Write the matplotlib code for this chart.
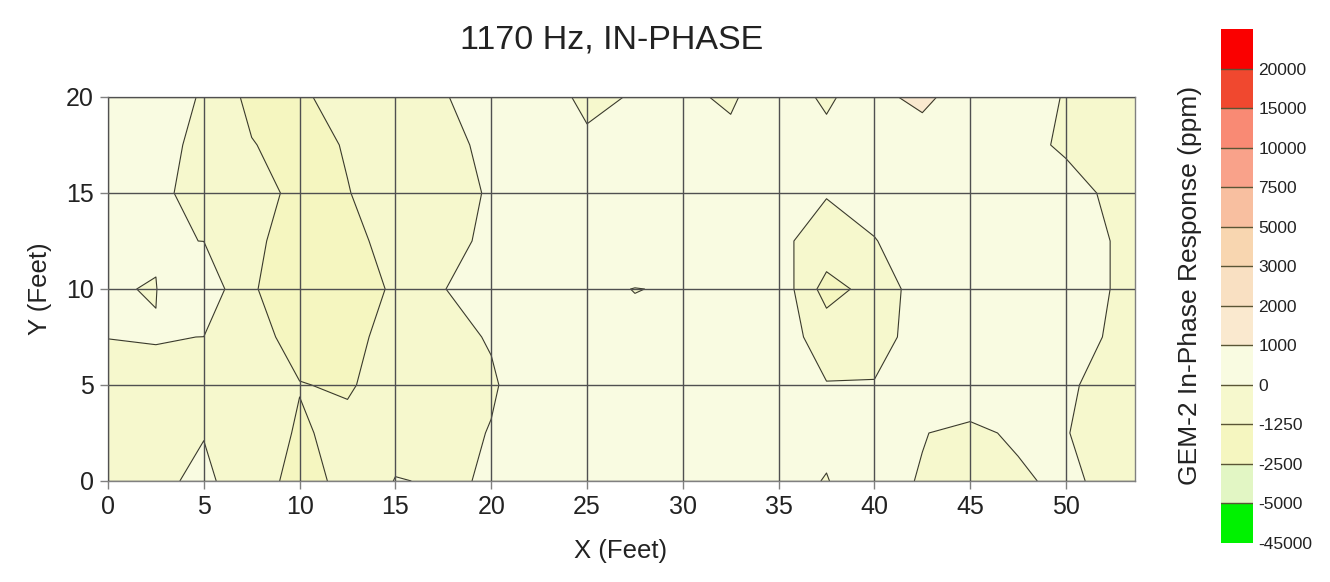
import numpy as np
import matplotlib
matplotlib.use("Agg")
import matplotlib.pyplot as plt
from matplotlib.colors import ListedColormap, BoundaryNorm

plt.rcParams['font.family'] = ['Liberation Sans', 'DejaVu Sans']

# ---- data (GEM-2 in-phase response, ppm) ----
x_ft = [0, 2.5, 5, 7.5, 10, 12.5, 15, 17.5, 20, 22.5, 25, 27.5, 30, 32.5, 35,
        37.5, 40, 42.5, 45, 47.5, 50, 52.5, 53.6]
y_ft = [0, 2.5, 5, 7.5, 10, 12.5, 15, 17.5, 20]

row_y00 = [-400, -315, 315, -900, -1500, -1069, 50, -100, 67, 300, 300, 300, 300, 200, 150, -20, 300, -60, -600, -200, 300, -450, -500]
row_y025 = [-500, -450, -60, -500, -1400, -900, -500, -300, 41, 400, 400, 400, 400, 400, 400, 100, 300, 40, -250, 188, 20, -230, -450]
row_y05 = [-500, -157, -300, -600, -1200, -1400, -600, -400, -100, 525, 400, 400, 400, 400, 400, 41, 40, 400, 800, 400, 100, -257, -450]
row_y075 = [20, 30, -6, -700, -1800, -1700, -700, -250, 62, 400, 400, 100, 400, 400, 508, -469, -300, 325, 400, 400, 300, -95, -400]
row_y10 = [30, -20, 900, -1150, -1900, -1800, -1100, -30, 500, 400, 100, -10, 40, 300, 833, -1771, -729, 573, 400, 400, 350, -30, -300]
row_y125 = [300, 60, -8, -1000, -1800, -1700, -700, -300, 200, 400, 400, 400, 400, 400, 152, -324, -30, 400, 400, 400, 350, -30, -300]
row_y15 = [450, 200, -326, -425, -1800, -1300, -600, -250, 62, 400, 400, 400, 400, 400, 400, 44, 300, 400, 400, 400, 300, -169, -450]
row_y175 = [450, 250, -196, -1180, -1800, -1136, -600, -300, 243, 400, 111, 350, 400, 213, 450, 336, 450, 382, 400, 250, -118, -450, -550]
row_y20 = [400, 300, -57, -1627, -1400, -864, -500, -50, 350, 300, -141, 45, 150, -120, 600, -189, 700, 1300, 300, 300, -41, -400, -500]

levels = [-45000, -5000, -2500, -1250, 0, 1000, 2000, 3000, 5000, 7500,
          10000, 15000, 20000, 25000]
band_colors = ['#00f200', '#e2f6c4', '#f5f6c0', '#f6f8cd', '#f9fbe1',
               '#fae9cf', '#f9e0c2', '#f8d6b0', '#f8bfa0', '#f9a28a',
               '#f98a74', '#f0482f', '#fa0000']
tick_labels = ['-45000', '-5000', '-2500', '-1250', '0', '1000', '2000',
               '3000', '5000', '7500', '10000', '15000', '20000']

title = '1170 Hz, IN-PHASE'
xlabel = 'X (Feet)'
ylabel = 'Y (Feet)'
cbar_label = 'GEM-2 In-Phase Response (ppm)'

# ---- figure ----
W, H = 1330, 582
fig = plt.figure(figsize=(W / 100, H / 100), dpi=100)
fig.patch.set_facecolor('white')

ax = fig.add_axes([108 / W, (H - 481) / H, (1135 - 108) / W, (481 - 97) / H])

Z = np.array([row_y00, row_y025, row_y05, row_y075, row_y10, row_y125,
              row_y15, row_y175, row_y20], dtype=float)
X, Y = np.meshgrid(np.array(x_ft), np.array(y_ft))

cmap = ListedColormap(band_colors)
norm = BoundaryNorm(levels, cmap.N)
cf = ax.contourf(X, Y, Z, levels=levels, cmap=cmap, norm=norm)
ax.contour(X, Y, Z, levels=levels, colors='#3a3a2a', linewidths=0.8,
           linestyles='solid')

ax.set_xlim(0, 53.6)
ax.set_ylim(0, 20)
ax.set_xticks(np.arange(0, 55, 5))
ax.set_yticks(np.arange(0, 25, 5))
ax.grid(True, color='#505050', linewidth=1.0)
ax.set_axisbelow(False)
for s in ax.spines.values():
    s.set_color('#808080')
    s.set_linewidth(1.0)
ax.tick_params(direction='out', length=6, width=1, color='#808080',
               labelsize=18, labelcolor='#222222', pad=4)

fig.text(612 / W, 1 - 40 / H, title, ha='center', va='center', fontsize=24.5,
         color='#222222')
fig.text(621 / W, 1 - 551 / H, xlabel, ha='center', va='center', fontsize=18.5,
         color='#222222')
fig.text(40 / W, 1 - 289 / H, ylabel, ha='center', va='center', fontsize=18.5,
         rotation=90, color='#222222')

# ---- colorbar ----
cax = fig.add_axes([1221 / W, (H - 543) / H, 32 / W, (543 - 29) / H])
cb = fig.colorbar(cf, cax=cax, spacing='uniform', ticks=levels[:-1])
cb.set_ticklabels(tick_labels)
cb.outline.set_visible(False)
cax.minorticks_off()
cax.tick_params(which='both', length=0, labelsize=12.5, pad=4,
                labelcolor='#222222')
for lv in levels[1:-1]:
    cax.axhline(lv, color='#5a5535', linewidth=1.0)
fig.text(1190 / W, 1 - 285 / H, cbar_label, ha='center', va='center',
         fontsize=19, rotation=90, color='#222222')

fig.savefig('out.png', dpi=100)
